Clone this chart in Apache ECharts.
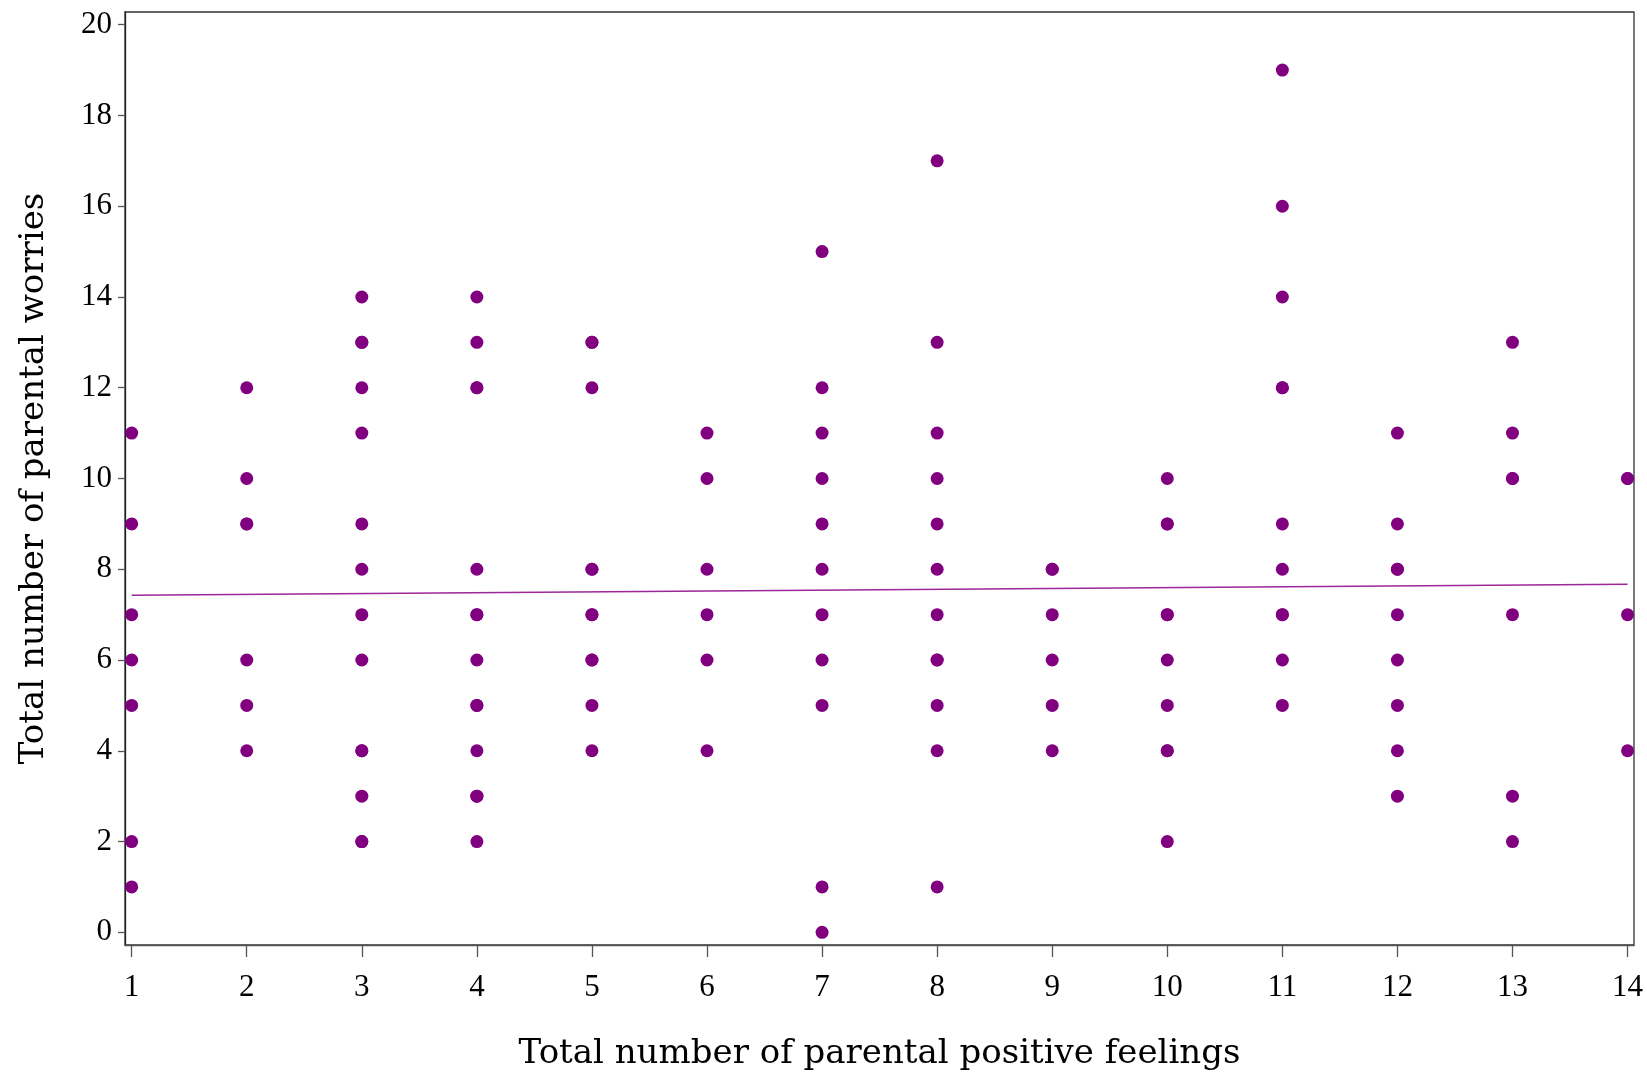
<!DOCTYPE html>
<html>
<head>
<meta charset="utf-8">
<script src="https://cdn.jsdelivr.net/npm/echarts@6/dist/echarts.min.js"></script>
<style>
html, body { margin: 0; padding: 0; background: #fff; }
#chart { width: 1647px; height: 1076px; }
</style>
</head>
<body>
<div id="chart"></div>
<script>
// x values (total positive feelings)
var positiveFeelings = [1, 2, 3, 4, 5, 6, 7, 8, 9, 10, 11, 12, 13, 14];
// worries observed at each x value, same order as positiveFeelings
var worriesByFeelings = [
  [11, 9, 7, 6, 5, 2, 1],
  [12, 10, 9, 9, 6, 5, 4],
  [14, 13, 13, 12, 11, 9, 8, 7, 6, 4, 4, 3, 2, 2],
  [14, 13, 12, 12, 8, 7, 7, 6, 5, 5, 4, 3, 3, 2],
  [13, 13, 12, 8, 8, 7, 7, 6, 6, 5, 4],
  [11, 10, 8, 7, 6, 4],
  [15, 12, 11, 10, 9, 8, 7, 6, 5, 1, 0],
  [17, 13, 11, 10, 9, 8, 7, 6, 6, 5, 4, 1],
  [8, 8, 7, 6, 5, 4],
  [10, 9, 9, 7, 7, 6, 5, 4, 4, 2],
  [19, 16, 14, 12, 12, 9, 8, 7, 7, 6, 5],
  [11, 9, 8, 8, 7, 6, 5, 4, 3],
  [13, 11, 10, 10, 7, 3, 2],
  [10, 10, 7, 4]
];
// fitted line end points
var fitX = [1, 14];
var fitY = [7.43, 7.67];

var xTicks = [1,2,3,4,5,6,7,8,9,10,11,12,13,14];
var yTicks = [0,2,4,6,8,10,12,14,16,18,20];

var points = [];
positiveFeelings.forEach(function (x, i) {
  worriesByFeelings[i].forEach(function (y) { points.push([x, y]); });
});
var fitLine = fitX.map(function (x, k) { return [x, fitY[k]]; });

var tickFont = 'Liberation Serif';
var titleFont = 'DejaVu Serif';
var chart = echarts.init(document.getElementById('chart'));
chart.setOption({
  backgroundColor: '#ffffff',
  animation: false,
  grid: {
    left: 125, right: 13, top: 12, bottom: 130,
    show: true, borderColor: '#333', borderWidth: 1.3, backgroundColor: 'transparent'
  },
  xAxis: {
    type: 'value',
    min: 0.942, max: 14.056,
    name: 'Total number of parental positive feelings',
    nameLocation: 'middle',
    nameGap: 92,
    nameTextStyle: { fontFamily: titleFont, fontSize: 34, color: '#000' },
    axisLine: { show: true, onZero: false, lineStyle: { color: '#555', width: 1.3 } },
    axisTick: { show: true, customValues: xTicks, length: 12, lineStyle: { color: '#555', width: 1.3 } },
    axisLabel: { customValues: xTicks, margin: 27, fontFamily: tickFont, fontSize: 31, color: '#000' },
    splitLine: { show: false }
  },
  yAxis: {
    type: 'value',
    min: -0.28, max: 20.28,
    name: 'Total number of parental worries',
    nameLocation: 'middle',
    nameGap: 74,
    nameRotate: 90,
    nameTextStyle: { fontFamily: titleFont, fontSize: 34, color: '#000' },
    axisLine: { show: true, onZero: false, lineStyle: { color: '#222', width: 1.3 } },
    axisTick: { show: true, customValues: yTicks, length: 7, lineStyle: { color: '#555', width: 1.3 } },
    axisLabel: { customValues: yTicks, margin: 13, fontFamily: tickFont, fontSize: 31, color: '#000' },
    splitLine: { show: false }
  },
  series: [
    {
      type: 'scatter',
      data: points,
      symbol: 'circle',
      symbolSize: 13,
      itemStyle: { color: '#800080', opacity: 1 }
    },
    {
      type: 'line',
      data: fitLine,
      symbol: 'none',
      lineStyle: { color: '#9b279b', width: 1.5 },
      z: 1
    }
  ]
});
</script>
</body>
</html>
